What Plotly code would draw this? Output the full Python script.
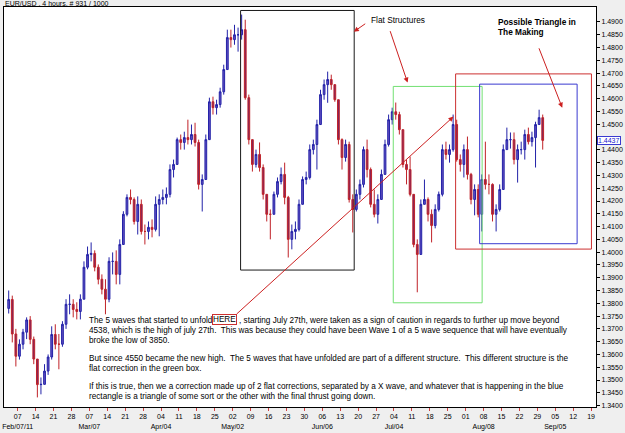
import plotly.graph_objects as go

# ---------------- data (EUR/USD daily summary of the 4h chart, Feb 02 .. Aug 30 2011) -------------
first_open = 1.3780
closes = [1.3815, 1.3680, 1.3593, 1.3640, 1.3687, 1.3735, 1.3659, 1.3582, 1.3482, 1.3483,
          1.3535, 1.3590, 1.3678, 1.3640, 1.3640, 1.3718, 1.3796, 1.3796, 1.3776, 1.3768,
          1.3816, 1.3941, 1.3991, 1.3995, 1.3941, 1.3894, 1.3855, 1.3816, 1.3964, 1.3964,
          1.3913, 1.4030, 1.4148, 1.4214, 1.4206, 1.4120, 1.4187, 1.4081, 1.4081, 1.4097,
          1.4089, 1.4187, 1.4206, 1.4214, 1.4226, 1.4323, 1.4343, 1.4440, 1.4429, 1.4448,
          1.4440, 1.4460, 1.4429, 1.4265, 1.4284, 1.4440, 1.4588, 1.4565, 1.4577, 1.4627,
          1.4714, 1.4839, 1.4831, 1.4850, 1.4850, 1.4870, 1.4604, 1.4440, 1.4343, 1.4382,
          1.4331, 1.4226, 1.4148, 1.4148, 1.4226, 1.4276, 1.4304, 1.4214, 1.4050, 1.4081,
          1.4089, 1.4187, 1.4284, 1.4292, 1.4401, 1.4421, 1.4499, 1.4616, 1.4655, 1.4675,
          1.4655, 1.4596, 1.4440, 1.4370, 1.4421, 1.4206, 1.4167, 1.4226, 1.4265, 1.4401,
          1.4323, 1.4187, 1.4148, 1.4206, 1.4304, 1.4421, 1.4518, 1.4549, 1.4538, 1.4479,
          1.4343, 1.4323, 1.4226, 1.4030, 1.3991, 1.4187, 1.4206, 1.4148, 1.4104, 1.4167,
          1.4226, 1.4401, 1.4382, 1.4401, 1.4499, 1.4362, 1.4343, 1.4401, 1.4304, 1.4206,
          1.4245, 1.4148, 1.4284, 1.4265, 1.4265, 1.4148, 1.4167, 1.4245, 1.4401, 1.4440,
          1.4440, 1.4362, 1.4401, 1.4401, 1.4460, 1.4432, 1.4448, 1.4499, 1.4526, 1.4437]
highs = [1.3850, 1.3830, 1.3700, 1.3659, 1.3700, 1.3745, 1.3750, 1.3670, 1.3582, 1.3510,
         1.3562, 1.3600, 1.3710, 1.3718, 1.3680, 1.3730, 1.3816, 1.3835, 1.3816, 1.3804,
         1.3835, 1.3964, 1.4022, 1.4038, 1.4007, 1.3952, 1.3913, 1.3894, 1.3980, 1.3999,
         1.4007, 1.4050, 1.4160, 1.4226, 1.4245, 1.4214, 1.4218, 1.4206, 1.4108, 1.4120,
         1.4128, 1.4218, 1.4226, 1.4245, 1.4253, 1.4343, 1.4362, 1.4448, 1.4460, 1.4471,
         1.4518, 1.4499, 1.4506, 1.4440, 1.4304, 1.4460, 1.4604, 1.4608, 1.4596, 1.4643,
         1.4733, 1.4870, 1.4870, 1.4889, 1.4878, 1.4929, 1.4909, 1.4616, 1.4440, 1.4401,
         1.4429, 1.4343, 1.4226, 1.4167, 1.4237, 1.4292, 1.4331, 1.4350, 1.4220, 1.4108,
         1.4120, 1.4206, 1.4296, 1.4315, 1.4421, 1.4440, 1.4518, 1.4635, 1.4675, 1.4706,
         1.4694, 1.4655, 1.4596, 1.4445, 1.4440, 1.4432, 1.4226, 1.4245, 1.4284, 1.4413,
         1.4440, 1.4331, 1.4245, 1.4226, 1.4323, 1.4440, 1.4538, 1.4565, 1.4585, 1.4549,
         1.4479, 1.4362, 1.4374, 1.4226, 1.4050, 1.4206, 1.4284, 1.4214, 1.4167, 1.4187,
         1.4237, 1.4421, 1.4432, 1.4421, 1.4538, 1.4518, 1.4382, 1.4421, 1.4452, 1.4310,
         1.4265, 1.4265, 1.4304, 1.4432, 1.4304, 1.4269, 1.4187, 1.4265, 1.4421, 1.4487,
         1.4468, 1.4468, 1.4421, 1.4432, 1.4479, 1.4487, 1.4471, 1.4510, 1.4557, 1.4538]
lows = [1.3760, 1.3647, 1.3553, 1.3580, 1.3620, 1.3660, 1.3640, 1.3562, 1.3432, 1.3444,
        1.3483, 1.3520, 1.3580, 1.3620, 1.3542, 1.3630, 1.3700, 1.3757, 1.3745, 1.3737,
        1.3737, 1.3855, 1.3933, 1.3964, 1.3925, 1.3874, 1.3835, 1.3757, 1.3804, 1.3913,
        1.3874, 1.3874, 1.4030, 1.4140, 1.4187, 1.4108, 1.4069, 1.4069, 1.4030, 1.4050,
        1.4058, 1.4081, 1.4062, 1.4187, 1.4187, 1.4214, 1.4292, 1.4343, 1.4401, 1.4401,
        1.4421, 1.4421, 1.4413, 1.4245, 1.4159, 1.4284, 1.4440, 1.4538, 1.4538, 1.4565,
        1.4616, 1.4714, 1.4800, 1.4811, 1.4784, 1.4831, 1.4596, 1.4421, 1.4315, 1.4331,
        1.4315, 1.4206, 1.4120, 1.4050, 1.4148, 1.4214, 1.4265, 1.4187, 1.3979, 1.4011,
        1.4050, 1.4081, 1.4187, 1.4265, 1.4284, 1.4382, 1.4323, 1.4499, 1.4596, 1.4584,
        1.4635, 1.4588, 1.4421, 1.4323, 1.4354, 1.4194, 1.4077, 1.4159, 1.4206, 1.4253,
        1.4292, 1.4175, 1.4136, 1.4112, 1.4206, 1.4304, 1.4413, 1.4499, 1.4518, 1.4460,
        1.4331, 1.4265, 1.4218, 1.4019, 1.3843, 1.3991, 1.4187, 1.4120, 1.4038, 1.4093,
        1.4159, 1.4218, 1.4362, 1.4350, 1.4393, 1.4354, 1.4315, 1.4292, 1.4284, 1.4187,
        1.4144, 1.4136, 1.4081, 1.4245, 1.4226, 1.4120, 1.4081, 1.4159, 1.4245, 1.4401,
        1.4405, 1.4343, 1.4272, 1.4382, 1.4362, 1.4421, 1.4413, 1.4331, 1.4499, 1.4401]

day_labels = ["07", "14", "21", "28", "07", "14", "21", "28", "04", "11", "18", "25",
              "02", "09", "16", "23", "30", "06", "13", "20", "27", "04", "11", "18",
              "25", "01", "08", "15", "22", "29", "05", "12", "19"]
month_labels = {0: "Feb/07/11", 4: "Mar/07", 8: "Apr/04", 12: "May/02", 17: "Jun/06",
                21: "Jul/04", 26: "Aug/08", 30: "Sep/05"}
price_ticks = [1.3400, 1.3450, 1.3500, 1.3550, 1.3600, 1.3650, 1.3700, 1.3750, 1.3800,
               1.3850, 1.3900, 1.3950, 1.4000, 1.4050, 1.4100, 1.4150, 1.4200, 1.4250,
               1.4300, 1.4350, 1.4400, 1.4450, 1.4500, 1.4550, 1.4600, 1.4650, 1.4700,
               1.4750, 1.4800, 1.4850, 1.4900]
last_price = 1.4437

# annotation boxes: (day-index from, day-index to, price low, price high)
black_box = (64.7, 96.4, 1.3930, 1.4945)
green_box = (107.3, 132.1, 1.3802, 1.4648)
red_box = (124.7, 162.6, 1.4012, 1.4697)
blue_box = (131.4, 158.6, 1.4033, 1.4657)

# ---------------- build ----------------
days = list(range(len(closes)))
opens = [first_open] + closes[:-1]
highs = [max(h, o, c) for h, o, c in zip(highs, opens, closes)]
lows = [min(l, o, c) for l, o, c in zip(lows, opens, closes)]

fig = go.Figure()
fig.add_trace(go.Candlestick(
    x=days, open=opens, high=highs, low=lows, close=closes,
    increasing=dict(line=dict(color="#2222a8", width=1), fillcolor="#6650c0"),
    decreasing=dict(line=dict(color="#c02228", width=1), fillcolor="#7a2464"),
    whiskerwidth=0, showlegend=False, hoverinfo="skip"))

tickvals = [2.5 + 5 * w for w in range(len(day_labels))]
ticktext = [d + ("<br>" + month_labels[w] if w in month_labels else "")
            for w, d in enumerate(day_labels)]

# price label hidden behind the current-price box, as in the reference
ytext = ["" if abs(v - 1.4450) < 1e-9 else "%.4f" % v for v in price_ticks]

FONT = "Liberation Sans, Arial, sans-serif"
L, R, T, B = 2, 29, 7, 25
W, H = 625, 433


def px(x):
    return (x - L) / (W - L - R)


def py(y):
    return (H - B - y) / (H - T - B)


shapes = []
for (x0, x1, y0, y1), col in [(black_box, "#1a1a1a"), (green_box, "#72e072"),
                              (red_box, "#cc3030"), (blue_box, "#3a3ad0")]:
    shapes.append(dict(type="rect", xref="x", yref="y", x0=x0, x1=x1, y0=y0, y1=y1,
                       line=dict(color=col, width=1), fillcolor="rgba(0,0,0,0)", layer="above"))

ann = []
arrow_col = "#cc2020"
# arrows: (head x, head y, tail x, tail y) in data units
for hx, hy, tx, ty in [(96.3, 1.4862, 99.9, 1.4897), (111.3, 1.4663, 106.3, 1.4870),
                       (154.45, 1.4565, 147.8, 1.4803), (124.1, 1.4530, 63.2, 1.3753)]:
    ann.append(dict(x=hx, y=hy, ax=tx, ay=ty, xref="x", yref="y", axref="x", ayref="y",
                    text="", showarrow=True, arrowhead=2, arrowsize=1, arrowwidth=1,
                    arrowcolor=arrow_col, standoff=0, startstandoff=0))

FS = 8.2


def txt(x, y, s, size=FS, bold=False, color="black", anchor="left", **kw):
    if bold:
        s = "<b>" + s + "</b>"
    d = dict(x=px(x), y=py(y), xref="paper", yref="paper", text=s, showarrow=False,
             xanchor=anchor, yanchor="middle", font=dict(family=FONT, size=size, color=color))
    d.update(kw)
    ann.append(d)


NB = "\u00a0 "
txt(1, 3.5, "EUR/USD , 4 hours, # 931 / 1000", size=7)
txt(368, 20, "Flat Structures", size=8.3)
txt(496, 22, "Possible Triangle in", size=8.3, bold=True)
txt(496, 32, "The Making", size=8.3, bold=True)

txt(85, 321, "The 5 waves that started to unfold")
txt(223, 320.5, "HERE", anchor="center", bordercolor="#cc3030", borderwidth=1, borderpad=0)
txt(235.5, 321, ", starting July 27th, were taken as a sign of caution in regards to further up move beyond")
body = [
    (331, "4538, which is the high of july 27th." + NB + "This was because they could have been Wave 1 of a 5 wave sequence that will have eventually"),
    (341, "broke the low of 3850."),
    (359, "But since 4550 became the new high." + NB + "The 5 waves that have unfolded are part of a different structure." + NB + "This different structure is the"),
    (369, "flat correction in the green box."),
    (387, "If this is true, then we a correction made up of 2 flat corrections, separated by a X wave, and whatever that is happening in the blue"),
    (397, "rectangle is a triangle of some sort or the other with the final thrust going down."),
]
for y, s in body:
    txt(85, y, s)

# current price label on the right axis
ann.append(dict(x=1.0, y=last_price, xref="paper", yref="y", xanchor="left", yanchor="middle",
                xshift=1, text="1.4437", showarrow=False, bgcolor="white",
                bordercolor="#3a3ad0", borderwidth=1, borderpad=0,
                font=dict(family=FONT, size=7, color="#2020d0")))

fig.update_layout(
    width=W, height=H, margin=dict(l=L, r=R, t=T, b=B, pad=0),
    paper_bgcolor="#efefef", plot_bgcolor="white",
    font=dict(family=FONT, size=7, color="black"),
    shapes=shapes, annotations=ann, showlegend=False,
    xaxis=dict(range=[-1.31, 163.87], rangeslider=dict(visible=False), showgrid=False,
               zeroline=False, showline=True, linecolor="black", linewidth=1, mirror=True,
               ticks="outside", ticklen=3, tickcolor="#d04040", tickwidth=1,
               tickvals=tickvals, ticktext=ticktext, tickangle=0,
               tickfont=dict(family=FONT, size=7, color="black")),
    yaxis=dict(range=[1.33945, 1.49586], side="right", showgrid=False, zeroline=False,
               showline=True, linecolor="black", linewidth=1, mirror=True,
               ticks="outside", ticklen=3, tickcolor="black",
               tickvals=price_ticks, ticktext=ytext,
               tickfont=dict(family=FONT, size=7, color="black")),
)

fig.write_html("out.html")
